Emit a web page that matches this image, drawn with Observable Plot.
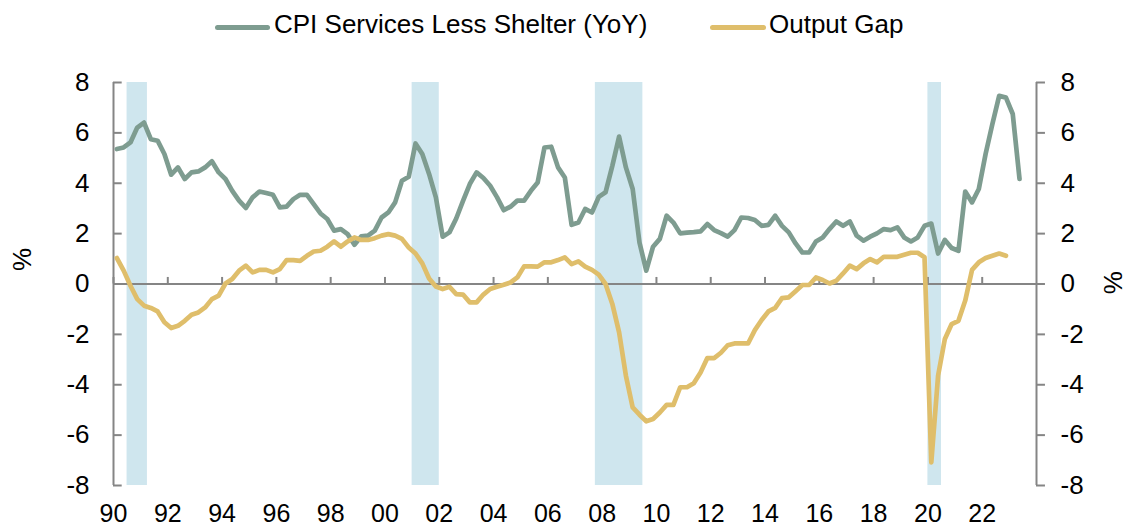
<!DOCTYPE html>
<html>
<head>
<meta charset="utf-8">
<script src="https://cdn.jsdelivr.net/npm/d3@7"></script>
<script src="https://cdn.jsdelivr.net/npm/@observablehq/plot@0.6"></script>
<style>
  html, body { margin: 0; padding: 0; background: #fff; }
  body { width: 1133px; height: 529px; overflow: hidden; font-family: "Liberation Sans", Arial, sans-serif; }
  #legend { position: relative; height: 55px; width: 1133px; }
  .sw { position: absolute; height: 5px; border-radius: 3px; top: 25px; }
  .lt { position: absolute; font-size: 26px; line-height: 26px; top: 11px; color: #000; white-space: nowrap; }
  #chart svg { display: block; overflow: visible; }
</style>
</head>
<body>
<div id="legend">
  <div class="sw" id="sw1" style="left:215px;width:55px;"></div>
  <div class="lt" id="lt1" style="left:274px;"></div>
  <div class="sw" id="sw2" style="left:710px;width:56px;"></div>
  <div class="lt" id="lt2" style="left:769px;"></div>
</div>
<div id="chart"></div>
<script>
// ---- Data (quarterly, first observation = 1990 Q1) ----
const firstYear = 1990;
const seriesNames = ["CPI Services Less Shelter (YoY)", "Output Gap"];
const seriesColors = ["#7e9c90", "#dfbe6b"];

const cpiServicesLessShelter = [
  5.36, 5.42, 5.62, 6.21, 6.41, 5.75, 5.69, 5.16, 4.34, 4.63,
  4.17, 4.43, 4.47, 4.63, 4.87, 4.43, 4.17, 3.70, 3.31, 3.02,
  3.44, 3.67, 3.61, 3.54, 3.04, 3.07, 3.37, 3.54, 3.54, 3.17,
  2.80, 2.58, 2.12, 2.18, 1.98, 1.56, 1.89, 1.92, 2.12, 2.64,
  2.84, 3.24, 4.10, 4.26, 5.58, 5.16, 4.37, 3.44, 1.88, 2.05,
  2.60, 3.30, 3.97, 4.43, 4.21, 3.90, 3.45, 2.93, 3.07, 3.31,
  3.31, 3.70, 4.03, 5.42, 5.45, 4.63, 4.23, 2.35, 2.44, 2.98,
  2.84, 3.46, 3.64, 4.69, 5.85, 4.63, 3.77, 1.65, 0.53, 1.48,
  1.79, 2.71, 2.44, 2.01, 2.04, 2.06, 2.09, 2.38, 2.14, 2.02,
  1.88, 2.14, 2.64, 2.62, 2.54, 2.31, 2.35, 2.71, 2.31, 2.05,
  1.61, 1.25, 1.25, 1.69, 1.85, 2.18, 2.48, 2.31, 2.48, 1.92,
  1.72, 1.88, 2.01, 2.18, 2.14, 2.25, 1.85, 1.69, 1.85, 2.31,
  2.40, 1.21, 1.75, 1.43, 1.32, 3.67, 3.24, 3.77, 5.16, 6.35,
  7.47, 7.40, 6.75, 4.17
];

const outputGap = [
  1.03, 0.53, -0.07, -0.60, -0.86, -0.95, -1.09, -1.52, -1.75, -1.66,
  -1.46, -1.22, -1.13, -0.93, -0.60, -0.46, 0.02, 0.20, 0.53, 0.73,
  0.46, 0.56, 0.56, 0.46, 0.59, 0.95, 0.95, 0.92, 1.12, 1.29,
  1.32, 1.48, 1.69, 1.48, 1.69, 1.85, 1.75, 1.75, 1.82, 1.92,
  1.98, 1.92, 1.79, 1.45, 1.21, 0.82, 0.22, -0.10, -0.20, -0.11,
  -0.40, -0.42, -0.73, -0.73, -0.42, -0.20, -0.11, -0.03, 0.06, 0.26,
  0.70, 0.70, 0.69, 0.86, 0.86, 0.95, 1.06, 0.79, 0.90, 0.69,
  0.56, 0.37, 0.00, -0.79, -1.92, -3.64, -4.90, -5.19, -5.45, -5.36,
  -5.10, -4.80, -4.80, -4.10, -4.10, -3.94, -3.51, -2.94, -2.94, -2.73,
  -2.43, -2.36, -2.36, -2.36, -1.83, -1.43, -1.09, -0.95, -0.56, -0.53,
  -0.29, -0.04, -0.04, 0.26, 0.16, 0.02, 0.13, 0.42, 0.73, 0.59,
  0.82, 0.99, 0.86, 1.08, 1.08, 1.08, 1.16, 1.24, 1.24, 1.06,
  -7.08, -3.64, -2.18, -1.59, -1.46, -0.66, 0.56, 0.86, 1.03, 1.12,
  1.21, 1.12
];

const recessionStart = [1990.5, 2001.0, 2007.75, 2020.0];
const recessionEnd   = [1991.25, 2002.0, 2009.5, 2020.5];

const yTicks = [-8, -6, -4, -2, 0, 2, 4, 6, 8];
const xTickYears = [1990, 1992, 1994, 1996, 1998, 2000, 2002, 2004, 2006, 2008, 2010, 2012, 2014, 2016, 2018, 2020, 2022];
const xTickLabels = ["90", "92", "94", "96", "98", "00", "02", "04", "06", "08", "10", "12", "14", "16", "18", "20", "22"];
const xDomain = [1990, 2024];
const yDomain = [-8, 8];

// ---- Build tables ----
const toRows = (arr) => arr.map((v, i) => ({t: firstYear + (i + 0.5) / 4, v}));
const cpiRows = toRows(cpiServicesLessShelter);
const gapRows = toRows(outputGap);
const recessions = recessionStart.map((s, i) => ({start: s, end: recessionEnd[i]}));
const xTicks = xTickYears.map((y, i) => ({year: y, label: xTickLabels[i]}));

const axisGray = "#858585";
const recessionFill = "#cfe6ee";
const fontSize = 26;

// Legend
document.getElementById("sw1").style.background = seriesColors[0];
document.getElementById("sw2").style.background = seriesColors[1];
document.getElementById("lt1").textContent = seriesNames[0];
document.getElementById("lt2").textContent = seriesNames[1];

const chart = Plot.plot({
  width: 1133,
  height: 474,
  marginLeft: 113,
  marginRight: 97,
  marginTop: 27,
  marginBottom: 44,
  style: {fontFamily: "'Liberation Sans', Arial, sans-serif", fontSize: fontSize + "px", background: "#fff", color: "#000", overflow: "visible"},
  x: {domain: xDomain, axis: null},
  y: {domain: yDomain, axis: null},
  marks: [
    Plot.rect(recessions, {x1: "start", x2: "end", fill: recessionFill}),
    Plot.ruleY([0], {stroke: axisGray, strokeWidth: 2}),
    Plot.ruleX([xDomain[0], xDomain[1]], {stroke: axisGray, strokeWidth: 2}),
    // left ticks (pointing inward)
    Plot.ruleY(yTicks, {y: d => d, x1: xDomain[0], x2: xDomain[0] + 0.32, stroke: axisGray, strokeWidth: 2}),
    // right ticks (pointing outward)
    Plot.ruleY(yTicks, {y: d => d, x1: xDomain[1], x2: xDomain[1] + 0.33, stroke: axisGray, strokeWidth: 2}),
    // x ticks on zero line
    Plot.ruleX(xTicks, {x: "year", y1: 0, y2: 0.26, stroke: axisGray, strokeWidth: 2}),
    // series
    Plot.line(cpiRows, {x: "t", y: "v", stroke: seriesColors[0], strokeWidth: 4.7, strokeLinejoin: "round", strokeLinecap: "round"}),
    Plot.line(gapRows, {x: "t", y: "v", stroke: seriesColors[1], strokeWidth: 4.7, strokeLinejoin: "round", strokeLinecap: "round"}),
    // y tick labels
    Plot.text(yTicks, {x: xDomain[0], y: d => d, text: d => String(d), dx: -24, textAnchor: "end", fill: "#000", fontSize}),
    Plot.text(yTicks, {x: xDomain[1], y: d => d, text: d => String(d), dx: 24, textAnchor: "start", fill: "#000", fontSize}),
    // x tick labels
    Plot.text(xTicks, {x: "year", y: yDomain[0], text: "label", dy: 28, fill: "#000", fontSize: 25}),
    // axis titles
    Plot.text(["%"], {frameAnchor: "left", text: d => d, rotate: -90, dx: -91, dy: -13, fill: "#000", fontSize}),
    Plot.text(["%"], {frameAnchor: "right", text: d => d, rotate: -90, dx: 77, dy: -13, fill: "#000", fontSize})
  ]
});
document.getElementById("chart").appendChild(chart);
</script>
</body>
</html>
